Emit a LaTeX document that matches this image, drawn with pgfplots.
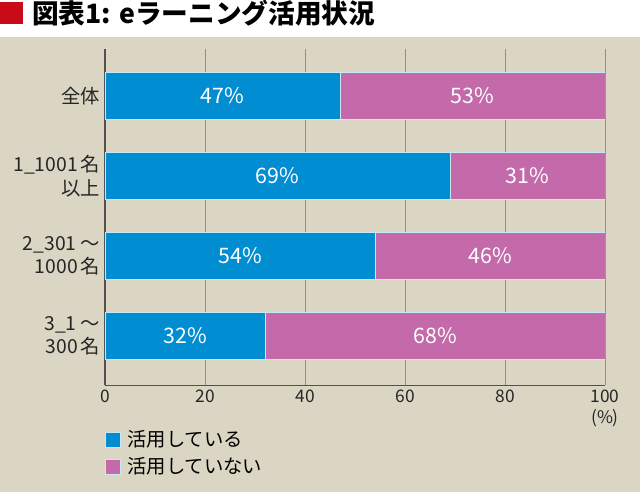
\documentclass[border=0pt]{standalone}
\usepackage{pgfplots}
\pgfplotsset{compat=1.18}
\usepackage{fontspec}
\setmainfont{Noto Sans CJK JP}
\definecolor{bgbeige}{RGB}{219,213,195}
\definecolor{barblue}{RGB}{0,141,210}
\definecolor{barpink}{RGB}{196,106,170}
\definecolor{titlered}{RGB}{200,10,25}
\definecolor{gridgray}{RGB}{150,144,132}
\definecolor{axisgray}{RGB}{85,80,75}
\definecolor{baredge}{RGB}{200,232,245}
\begin{document}
\begin{tikzpicture}
\begin{scope}[x=0.75pt,y=0.75pt]
\fill[white] (0,0) rectangle (640,495);
\fill[bgbeige] (0,3) rectangle (640,458);
\fill[titlered] (0,471) rectangle (23,493);
\node[anchor=west, inner sep=0pt, font=\fontsize{20}{22}\selectfont\bfseries] at (32,482) {図表1: eラーニング活用状況};
\end{scope}
\begin{axis}[
  at={(78.75pt,82.5pt)}, anchor=south west, scale only axis,
  width=375pt, height=252pt,
  xbar stacked, bar width=0.5875,
  xmin=0, xmax=100, ymin=-0.6125, ymax=3.5875,
  axis x line*=bottom, axis y line*=left,
  axis line style={-, axisgray, line width=0.8pt},
  xtick={0,20,...,100}, ytick={0,1,2,3},
  yticklabels={{3\_1 ～\\300\,名},{2\_301 ～\\1000\,名},{1\_1001\,名\\以上},{全体}},
  yticklabel style={align=right, font=\fontsize{14.5}{17.5}\selectfont, text=black!85},
  xticklabel style={font=\fontsize{13}{15}\selectfont, text=black!85},
  /pgf/number format/assume math mode=true,
  xmajorgrids, grid style={gridgray, line width=0.75pt},
  major tick length=0pt,
  xlabel={(\%)},
  xlabel style={at={(axis description cs:1,0)}, anchor=north, yshift=-15pt, font=\fontsize{13}{15}\selectfont, text=black!85},
  legend style={at={(0,0)}, anchor=north west, yshift=-32pt, draw=none, fill=none, inner sep=0pt, row sep=2.5pt, font=\fontsize{14.5}{16}\selectfont, legend cell align=left},
  legend image code/.code={\fill[#1] (0pt,-5.6pt) rectangle (11.25pt,5.6pt); \path (14pt,0pt);},
]
\addplot[fill=barblue, draw=baredge, line width=0.6pt] coordinates {(47,3) (69,2) (54,1) (32,0)};
\addplot[fill=barpink, draw=baredge, line width=0.6pt] coordinates {(53,3) (31,2) (46,1) (68,0)};
\legend{活用している, 活用していない}
\end{axis}
\begin{axis}[
  at={(78.75pt,82.5pt)}, anchor=south west, scale only axis,
  width=375pt, height=252pt,
  xmin=0, xmax=100, ymin=-0.6125, ymax=3.5875,
  hide axis,
]
\addplot[draw=none, mark=none, nodes near coords, point meta=explicit symbolic,
  every node near coord/.style={anchor=center, text=white, font=\fontsize{16}{17}\selectfont}]
  coordinates {(23.5,3) [47\%] (34.5,2) [69\%] (27,1) [54\%] (16,0) [32\%]
               (73.5,3) [53\%] (84.5,2) [31\%] (77,1) [46\%] (66,0) [68\%]};
\end{axis}
\end{tikzpicture}
\end{document}
